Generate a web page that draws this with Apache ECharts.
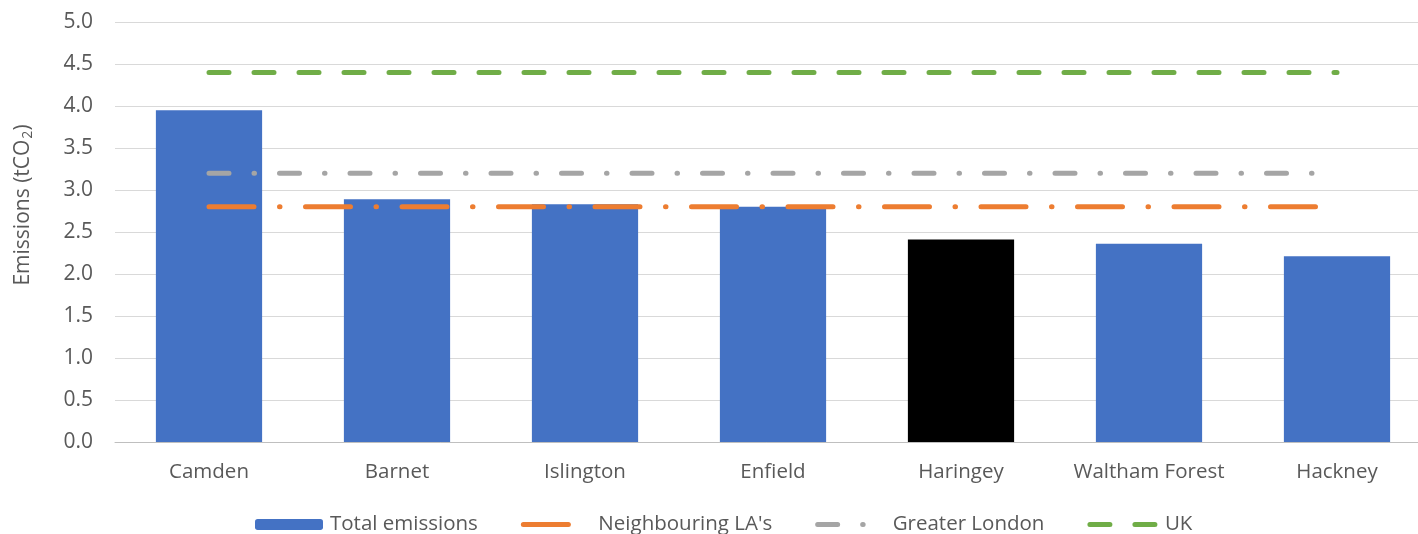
<!DOCTYPE html>
<html>
<head>
<meta charset="utf-8">
<script src="https://cdn.jsdelivr.net/npm/echarts@6/dist/echarts.min.js"></script>
<style>
html,body{margin:0;padding:0;background:#fff;}
#chart{width:1418px;height:534px;}
</style>
</head>
<body>
<div id="chart"></div>
<script>
const categories = ['Camden', 'Barnet', 'Islington', 'Enfield', 'Haringey', 'Waltham Forest', 'Hackney'];
const totalEmissions = [3.95, 2.89, 2.83, 2.80, 2.41, 2.36, 2.21];
const neighbouringLAs = [2.8, 2.8, 2.8, 2.8, 2.8, 2.8, 2.8];
const greaterLondon = [3.2, 3.2, 3.2, 3.2, 3.2, 3.2, 3.2];
const uk = [4.4, 4.4, 4.4, 4.4, 4.4, 4.4, 4.4];
const yTicks = ['0.0', '0.5', '1.0', '1.5', '2.0', '2.5', '3.0', '3.5', '4.0', '4.5', '5.0'];
const highlighted = 'Haringey';

const FONT = '"Open Sans", "DejaVu Sans", sans-serif';
const TXT = '#595959';

const ORANGE_DASH = [45, 25.5, 0.5, 25.5];
const GREY_DASH = [20, 25, 0.5, 25];
const GREEN_DASH = [20, 25];

const chart = echarts.init(document.getElementById('chart'), null, {renderer: 'canvas'});
chart.setOption({
  animation: false,
  backgroundColor: '#ffffff',
  grid: {left: 115, top: 22, width: 1316, height: 420, containLabel: false, outerBoundsMode: 'none'},
  xAxis: {
    type: 'category',
    data: categories,
    boundaryGap: true,
    axisLine: {show: true, lineStyle: {color: '#BFBFBF', width: 1}},
    axisTick: {show: false},
    axisLabel: {color: TXT, fontSize: 20.5, fontFamily: FONT, margin: 20, interval: 0}
  },
  yAxis: {
    type: 'value',
    min: 0, max: 5, interval: 0.5,
    name: 'Emissions (tCO{sub|2})',
    nameLocation: 'middle',
    nameGap: 80,
    nameRotate: 90,
    nameTextStyle: {
      color: TXT, fontSize: 21, fontFamily: FONT,
      padding: [0, 0, 0, 54],
      rich: {sub: {fontSize: 14, fontFamily: FONT, color: TXT, padding: [10, 0, 0, 1]}}
    },
    axisLine: {show: false},
    axisTick: {show: false},
    splitLine: {lineStyle: {color: '#D9D9D9', width: 1}},
    axisLabel: {
      color: TXT, fontSize: 21, fontFamily: FONT, margin: 22,
      formatter: function (v) { return yTicks[Math.round(v / 0.5)]; }
    }
  },
  legend: {
    left: 250, top: 509,
    itemWidth: 68, itemHeight: 11, itemGap: 43,
    textStyle: {color: TXT, fontSize: 20.5, fontFamily: FONT, padding: [0, 0, 0, 2]},
    data: [
      {name: 'Total emissions'},
      {name: "Neighbouring LA's", itemStyle: {opacity: 0},
        lineStyle: {color: '#ED7D31', width: 5, cap: 'round', type: ORANGE_DASH}},
      {name: 'Greater London', itemStyle: {opacity: 0},
        lineStyle: {color: '#A5A5A5', width: 5, cap: 'round', type: GREY_DASH}},
      {name: 'UK', itemStyle: {opacity: 0},
        lineStyle: {color: '#70AD47', width: 5, cap: 'round', type: GREEN_DASH}}
    ]
  },
  series: [
    {
      name: 'Total emissions',
      type: 'bar',
      barWidth: '56.5%',
      itemStyle: {color: '#4472C4'},
      data: totalEmissions.map(function (v, i) {
        return categories[i] === highlighted ? {value: v, itemStyle: {color: '#000000'}} : v;
      })
    },
    {
      name: "Neighbouring LA's",
      type: 'line',
      symbol: 'none',
      data: neighbouringLAs,
      itemStyle: {color: '#ED7D31'},
      lineStyle: {color: '#ED7D31', width: 5, cap: 'round', type: ORANGE_DASH}
    },
    {
      name: 'Greater London',
      type: 'line',
      symbol: 'none',
      data: greaterLondon,
      itemStyle: {color: '#A5A5A5'},
      lineStyle: {color: '#A5A5A5', width: 5, cap: 'round', type: GREY_DASH}
    },
    {
      name: 'UK',
      type: 'line',
      symbol: 'none',
      data: uk,
      itemStyle: {color: '#70AD47'},
      lineStyle: {color: '#70AD47', width: 5, cap: 'round', type: GREEN_DASH}
    }
  ]
});
</script>
</body>
</html>
